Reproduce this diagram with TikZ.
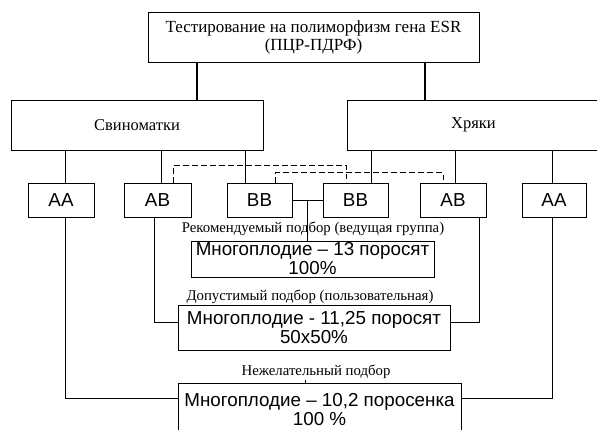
\documentclass[tikz,border=0pt]{standalone}
\usepackage{fontspec}
\setmainfont{Liberation Serif}
\newfontfamily\boxfont{Liberation Sans}
\usetikzlibrary{calc}
\begin{document}
\begin{tikzpicture}[x=1pt,y=-1pt,
  box/.style={draw, line width=0.8pt, inner sep=0pt, align=center},
  serifbox/.style={box, font=\fontsize{16.5}{18}\selectfont},
  titlebox/.style={box, font=\fontsize{17}{18}\selectfont},
  sansbox/.style={box, font=\boxfont\fontsize{18.8}{19}\selectfont},
  lbl/.style={inner sep=1pt, font=\fontsize{14.8}{16}\selectfont},
  conn/.style={line width=0.8pt},
  thickconn/.style={line width=1.8pt},
  dconn/.style={line width=0.8pt, dash pattern=on 5.5pt off 3.5pt}]
\useasboundingbox (0,0) rectangle (597,430);
\clip (0,0) rectangle (597,430);
% boxes
\node[titlebox, minimum width=331, minimum height=50] (top) at (313.5,37) {Тестирование на полиморфизм гена ESR\\(ПЦР-ПДРФ)};
\node[serifbox, minimum width=252, minimum height=50] (svin) at (137,125) {Свиноматки};
\node[serifbox, minimum width=253, minimum height=50] (hry) at (473.5,125) {Хряки};
\node[sansbox, minimum width=66, minimum height=34] (aa1) at (61,200) {AA};
\node[sansbox, minimum width=67, minimum height=34] (ab1) at (157.5,200) {AB};
\node[sansbox, minimum width=65, minimum height=34] (bb1) at (259.5,200) {BB};
\node[sansbox, minimum width=65, minimum height=34] (bb2) at (355.5,200) {BB};
\node[sansbox, minimum width=66, minimum height=34] (ab2) at (453,200) {AB};
\node[sansbox, minimum width=64, minimum height=34] (aa2) at (554,200) {AA};
\node[sansbox, minimum width=243, minimum height=36] (r1) at (312.5,259) {Многоплодие – 13 поросят\\100\%};
\node[sansbox, minimum width=272, minimum height=45] (r2) at (314,327.5) {Многоплодие - 11,25 поросят\\50x50\%};
\node[sansbox, minimum width=283, minimum height=53] (r3) at (319.5,409.5) {Многоплодие – 10,2 поросенка\\100 \%};
% labels
\node[lbl] (lab1) at (313,229) {Рекомендуемый подбор (ведущая группа)};
\node[lbl] (lab2) at (310,297) {Допустимый подбор (пользовательная)};
\node[lbl] (lab3) at (316,372) {Нежелательный подбор};
% connectors
\draw[thickconn] ([xshift=-116.5pt]top.south) -- ([xshift=-116.5pt]top.south |- svin.north);
\draw[thickconn] ([xshift=111.5pt]top.south) -- ([xshift=111.5pt]top.south |- hry.north);
\draw[conn] ([xshift=4pt]aa1.north) -- ([xshift=4pt]aa1.north |- svin.south);
\draw[conn] ([xshift=3.5pt]ab1.north) -- ([xshift=3.5pt]ab1.north |- svin.south);
\draw[conn] ([xshift=-14.5pt]bb1.north) -- ([xshift=-14.5pt]bb1.north |- svin.south);
\draw[conn] ([xshift=15.5pt]bb2.north) -- ([xshift=15.5pt]bb2.north |- hry.south);
\draw[conn] ([xshift=2pt]ab2.north) -- ([xshift=2pt]ab2.north |- hry.south);
\draw[conn] ([xshift=-2pt]aa2.north) -- ([xshift=-2pt]aa2.north |- hry.south);
\draw[dconn] ([xshift=15.5pt]ab1.north) -- ++(0,-17) -| ([xshift=-9.5pt]bb2.north);
\draw[dconn] ([xshift=15.5pt]bb1.north) -- ++(0,-10) -| ([xshift=-10pt]ab2.north);
\draw[conn] (bb1.east) -- (bb2.west);
\coordinate (j) at ($(bb1.east)!0.5!(bb2.west)$);
\draw[conn] (j) -- (j |- r1.north);
\draw[conn] ([xshift=-3.5pt]ab1.south) |- ([yshift=5pt]r2.west);
\draw[conn] ([xshift=26pt]ab2.south) |- ([yshift=5pt]r2.east);
\draw[conn] ([xshift=4pt]aa1.south) |- ([yshift=11.5pt]r3.west);
\draw[conn] ([xshift=-2pt]aa2.south) |- ([yshift=11.5pt]r3.east);
\draw[conn] ([xshift=-9pt]r2.north) -- ([xshift=-9pt]r2.north |- lab2.south);
\draw[conn] ([xshift=-14.5pt]r3.north) -- ([xshift=-14.5pt]r3.north |- lab3.south);
\end{tikzpicture}
\end{document}
